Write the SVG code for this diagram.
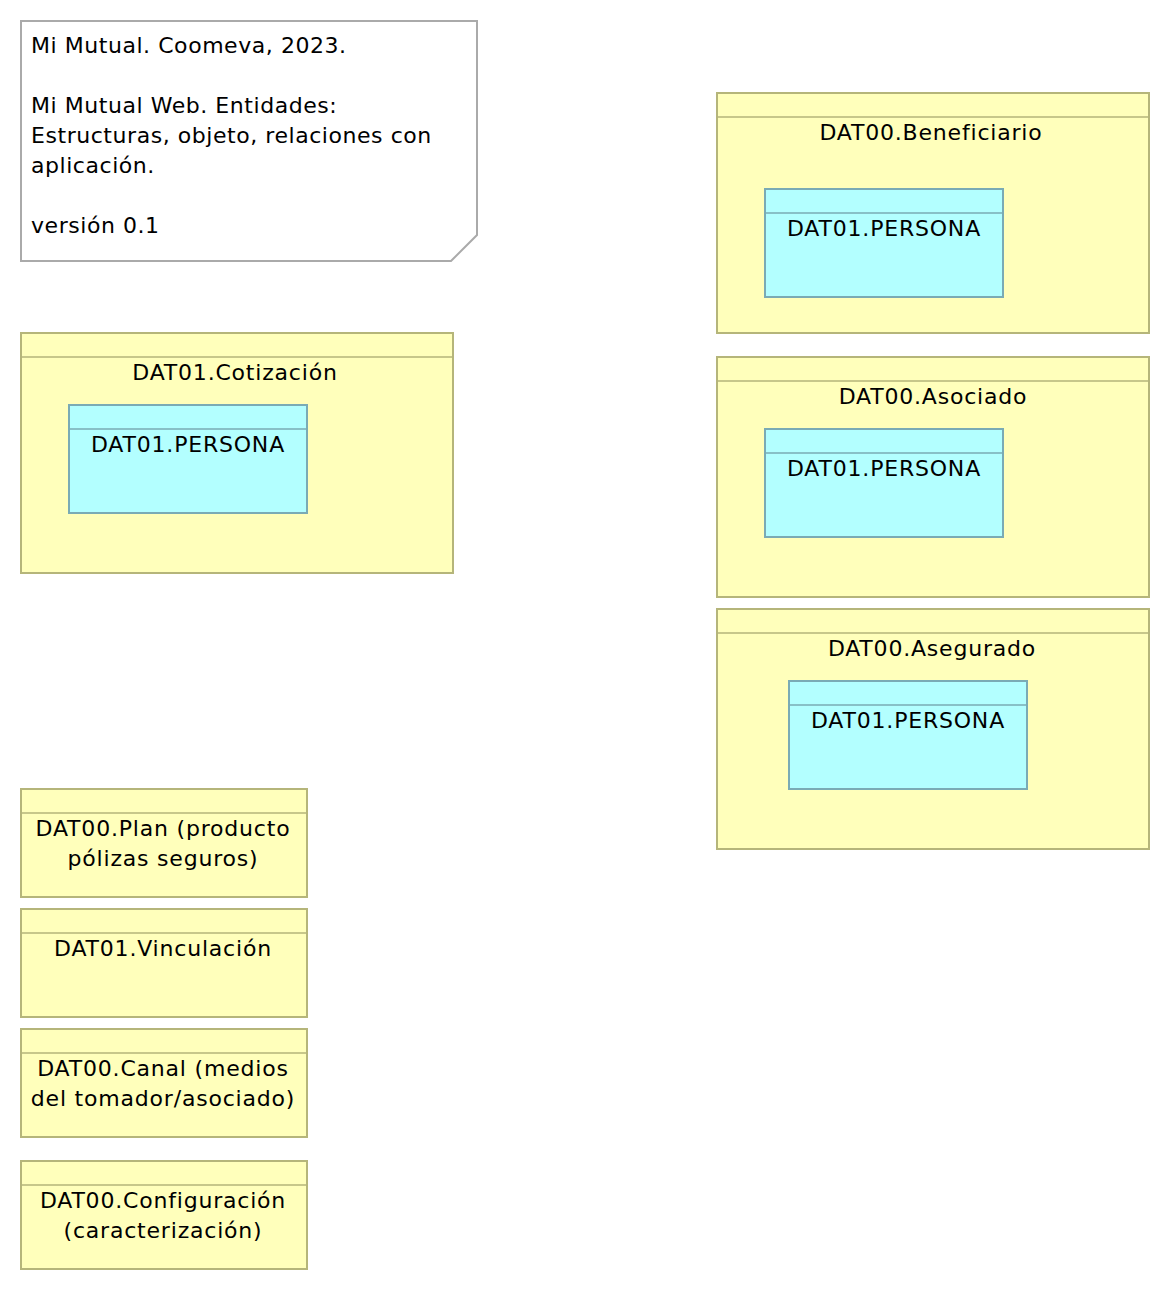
<svg xmlns="http://www.w3.org/2000/svg" width="1170" height="1290" viewBox="0 0 1170 1290">
<style>
text{font-family:"DejaVu Sans","Noto Sans",sans-serif;font-size:22px;fill:#000;letter-spacing:0.8px}
.c{text-anchor:middle}
.t{letter-spacing:0.55px}
.y{fill:#ffffbb;stroke:#b5b57a;stroke-width:2}
.yl{stroke:#b5b57a;stroke-width:1.5}
.b{fill:#b3ffff;stroke:#7aabb5;stroke-width:2}
.bl{stroke:#7aabb5;stroke-width:1.5}
.n{fill:#fff;stroke:#aaaaaa;stroke-width:2}
</style>
<rect width="1170" height="1290" fill="#fff"/>
<g id="note">
<path class="n" d="M21,21 H477 V235 L451,261 H21 Z"/>
<text class="t" x="31" y="53">Mi Mutual. Coomeva, 2023.</text>
<text class="t" x="31" y="113">Mi Mutual Web. Entidades:</text>
<text class="t" x="31" y="143">Estructuras, objeto, relaciones con</text>
<text class="t" x="31" y="173">aplicación.</text>
<text class="t" x="31" y="233">versión 0.1</text>
</g>
<g id="cotizacion">
<rect class="y" x="21" y="333" width="432" height="240"/>
<line class="yl" x1="21" y1="357" x2="453" y2="357"/>
<text class="c" x="235" y="380">DAT01.Cotización</text>
<g id="cotizacion-persona">
<rect class="b" x="69" y="405" width="238" height="108"/>
<line class="bl" x1="69" y1="429" x2="307" y2="429"/>
<text class="c" x="188" y="452">DAT01.PERSONA</text>
</g>
</g>
<g id="beneficiario">
<rect class="y" x="717" y="93" width="432" height="240"/>
<line class="yl" x1="717" y1="117" x2="1149" y2="117"/>
<text class="c" x="931" y="140">DAT00.Beneficiario</text>
<g id="beneficiario-persona">
<rect class="b" x="765" y="189" width="238" height="108"/>
<line class="bl" x1="765" y1="213" x2="1003" y2="213"/>
<text class="c" x="884" y="236">DAT01.PERSONA</text>
</g>
</g>
<g id="asociado">
<rect class="y" x="717" y="357" width="432" height="240"/>
<line class="yl" x1="717" y1="381" x2="1149" y2="381"/>
<text class="c" x="933" y="404">DAT00.Asociado</text>
<g id="asociado-persona">
<rect class="b" x="765" y="429" width="238" height="108"/>
<line class="bl" x1="765" y1="453" x2="1003" y2="453"/>
<text class="c" x="884" y="476">DAT01.PERSONA</text>
</g>
</g>
<g id="asegurado">
<rect class="y" x="717" y="609" width="432" height="240"/>
<line class="yl" x1="717" y1="633" x2="1149" y2="633"/>
<text class="c" x="932" y="656">DAT00.Asegurado</text>
<g id="asegurado-persona">
<rect class="b" x="789" y="681" width="238" height="108"/>
<line class="bl" x1="789" y1="705" x2="1027" y2="705"/>
<text class="c" x="908" y="728">DAT01.PERSONA</text>
</g>
</g>
<g id="plan">
<rect class="y" x="21" y="789" width="286" height="108"/>
<line class="yl" x1="21" y1="813" x2="307" y2="813"/>
<text class="c" x="163" y="836">DAT00.Plan (producto</text>
<text class="c" x="163" y="866">pólizas seguros)</text>
</g>
<g id="vinculacion">
<rect class="y" x="21" y="909" width="286" height="108"/>
<line class="yl" x1="21" y1="933" x2="307" y2="933"/>
<text class="c" x="163" y="956">DAT01.Vinculación</text>
</g>
<g id="canal">
<rect class="y" x="21" y="1029" width="286" height="108"/>
<line class="yl" x1="21" y1="1053" x2="307" y2="1053"/>
<text class="c" x="163" y="1076">DAT00.Canal (medios</text>
<text class="c" x="163" y="1106">del tomador/asociado)</text>
</g>
<g id="configuracion">
<rect class="y" x="21" y="1161" width="286" height="108"/>
<line class="yl" x1="21" y1="1185" x2="307" y2="1185"/>
<text class="c" x="163" y="1208">DAT00.Configuración</text>
<text class="c" x="163" y="1238">(caracterización)</text>
</g>
<g id="connectors"></g>
</svg>
